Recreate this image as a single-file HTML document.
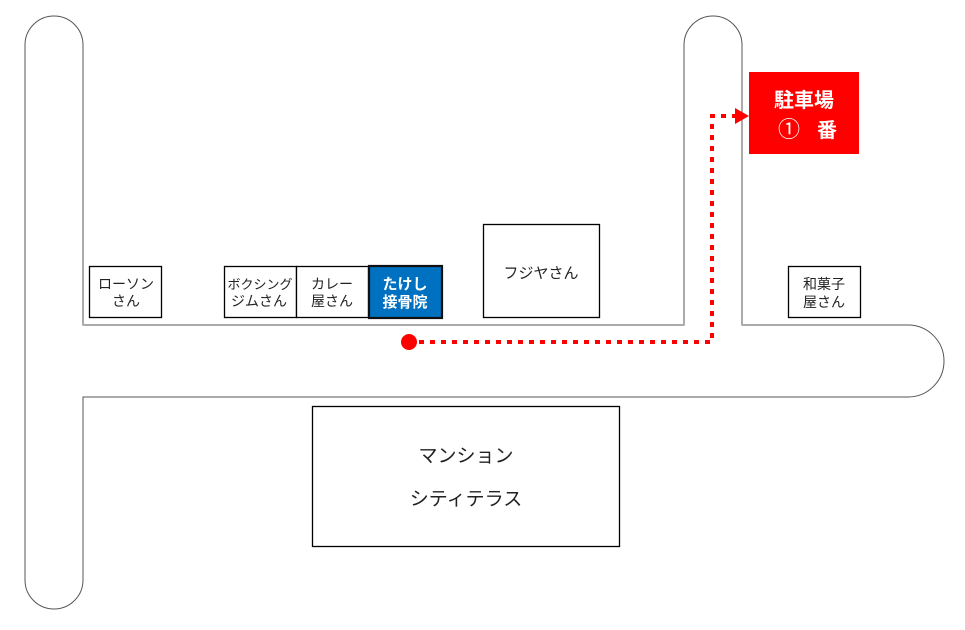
<!DOCTYPE html>
<html><head><meta charset="utf-8"><style>
html,body{margin:0;padding:0;background:#fff;width:965px;height:630px;overflow:hidden}
svg text{font-family:"Liberation Sans","Noto Sans CJK JP",sans-serif}
</style></head><body>
<svg width="965" height="630" viewBox="0 0 965 630" xmlns="http://www.w3.org/2000/svg">
<rect width="965" height="630" fill="#fff"/>
<path d="M83 45 V325 H684 V45 A29 29 0 0 1 742 45 V325 H908 A36 36 0 0 1 908 397 H83 V580 A29 29 0 0 1 25 580 V45 A29 29 0 0 1 83 45 Z" fill="#fff" stroke="#555" stroke-width="1"/>
<line x1="83" y1="325" x2="684" y2="325" stroke="#aaa" stroke-width="2"/>
<line x1="742" y1="325" x2="908" y2="325" stroke="#aaa" stroke-width="2"/>
<g stroke="#000" stroke-width="1.3" fill="#fff">
<rect x="89.5" y="266.5" width="72" height="51"/>
<rect x="224.5" y="266.5" width="72" height="51"/>
<rect x="296.5" y="266.5" width="72" height="51"/>
<rect x="483.5" y="224.5" width="116" height="93"/>
<rect x="312.5" y="406.5" width="307" height="140"/>
<rect x="788.5" y="266.5" width="72" height="51"/>
</g>
<rect x="369" y="266" width="73" height="52" fill="#0070c0" stroke="#111" stroke-width="2.2"/>
<rect x="749" y="72" width="110" height="82" fill="#ff0000"/>
<g font-size="14" fill="#222" text-anchor="middle">
<text x="126" y="289">ローソン</text><text x="126" y="306">さん</text>
<text x="260" y="289" font-size="13">ボクシング</text><text x="259" y="306">ジムさん</text>
<text x="332" y="289">カレー</text><text x="332" y="306">屋さん</text>
<text x="541" y="278" font-size="15">フジヤさん</text>
<text x="824" y="289">和菓子</text><text x="824" y="307">屋さん</text>
<text x="466" y="462" font-size="19">マンション</text>
<text x="466" y="505" font-size="19">シティテラス</text>
</g>
<g fill="#fff" font-weight="bold" text-anchor="middle">
<text x="405" y="289" font-size="15">たけし</text><text x="405" y="307" font-size="15">接骨院</text>
<text x="804" y="107" font-size="20">駐車場</text>
<text x="789" y="137" font-size="22" font-weight="normal">①</text>
<text x="827" y="137" font-size="20">番</text>
</g>
<circle cx="409" cy="342" r="8" fill="#ff0000"/>
<path d="M419 342 H712 V116 H735" fill="none" stroke="#ff0000" stroke-width="4" stroke-dasharray="5 6"/>
<polygon points="735,108 749,116 735,124" fill="#ff0000"/>
</svg>
</body></html>
